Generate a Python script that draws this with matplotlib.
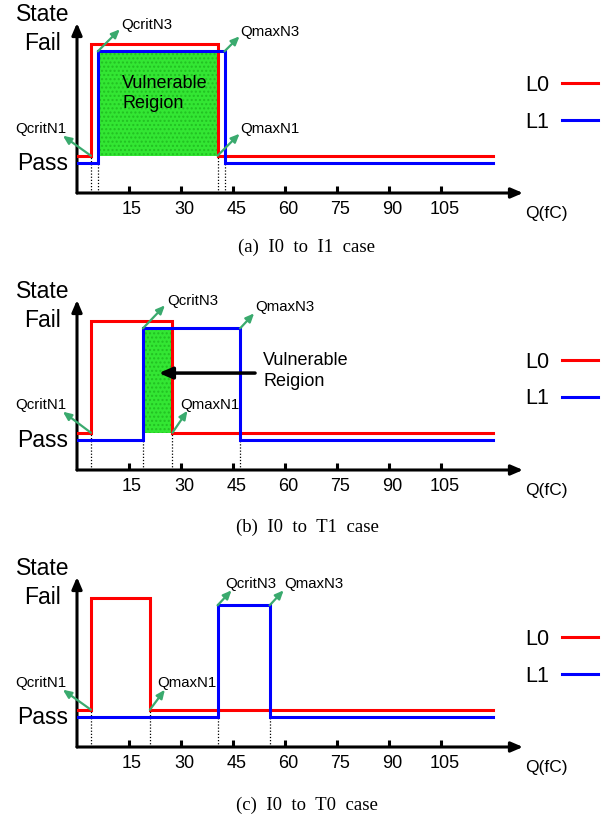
import matplotlib
matplotlib.use("Agg")
import matplotlib.pyplot as plt
from matplotlib.transforms import ScaledTranslation

# ---------------- data ----------------
captions = ["(a)  I0  to  I1  case", "(b)  I0  to  T1  case", "(c)  I0  to  T0  case"]
l0_rise = [4, 4, 4]            # QcritN1 (fC)
l0_fall = [40.5, 27.5, 21]     # QmaxN1 (fC)
l1_rise = [6, 19, 40.5]        # QcritN3 (fC)
l1_fall = [42.5, 47, 55.5]     # QmaxN3 (fC)
vulnerable = [True, True, False]
q_end = 120
pass_l0, fail_l0 = 1.0, 4.0
pass_l1, fail_l1 = 0.8, 3.8
xticks = [15, 30, 45, 60, 75, 90, 105]
series_names = ["L0", "L1"]

# ---------------- style ----------------
RED = "#ff0000"
BLUE = "#0000ff"
GREEN_FILL = "#33e633"
ARROW_GREEN = "#3aaa6e"
SANS = ["Liberation Sans", "DejaVu Sans"]
SERIF = ["Liberation Serif", "DejaVu Serif"]
plt.rcParams["font.family"] = SANS

W, H = 612, 818
fig = plt.figure(figsize=(W / 100, H / 100), dpi=100)

axis_bottoms = [193, 470, 747]   # pixel row of x-axis
caption_y = [247, 527, 805]
AX_LEFT, AX_W, AX_H = 77, 446, 170
XMAX, YMAX = 128.5, 4.56

# annotation offsets (pixels): (arrow dx, dy, text dx, dy, ha)
ann_offsets = [
    {"QcritN1": (-28, 20, -25, 27, "right"), "QcritN3": (22, 22, 23, 26, "left"),
     "QmaxN3": (15, 15, 16, 19, "left"), "QmaxN1": (22, 22, 23, 27, "left")},
    {"QcritN1": (-28, 21, -25, 28, "right"), "QcritN3": (22, 23, 24, 27, "left"),
     "QmaxN3": (14, 15, 15, 21, "left"), "QmaxN1": (15, 22, 8, 28, "left")},
    {"QcritN1": (-28, 20, -25, 27, "right"), "QcritN3": (14, 15, 8, 21, "left"),
     "QmaxN3": (14, 15, 15, 21, "left"), "QmaxN1": (15, 20, 7, 27, "left")},
]

for i in range(3):
    yb = axis_bottoms[i]
    ax = fig.add_axes([AX_LEFT / W, 1 - yb / H, AX_W / W, AX_H / H])
    ax.set_xlim(0, XMAX)
    ax.set_ylim(0, YMAX)
    for s in ax.spines.values():
        s.set_visible(False)

    # axes arrows
    ax.annotate("", xy=(XMAX, 0), xytext=(0, 0),
                arrowprops=dict(arrowstyle="-|>,head_length=0.7,head_width=0.3",
                                color="k", lw=2.2, shrinkA=0, shrinkB=0),
                annotation_clip=False)
    ax.annotate("", xy=(0, YMAX), xytext=(0, 0),
                arrowprops=dict(arrowstyle="-|>,head_length=0.7,head_width=0.3",
                                color="k", lw=2.2, shrinkA=0, shrinkB=0),
                annotation_clip=False)

    ax.set_xticks(xticks)
    ax.set_xticklabels([str(t) for t in xticks])
    ax.tick_params(axis="x", direction="in", length=5, width=2.2, pad=6,
                   labelsize=13, color="k")
    off = ScaledTranslation(3 / 100, 0, fig.dpi_scale_trans)
    for lab in ax.get_xticklabels():
        lab.set_transform(lab.get_transform() + off)
    ax.set_yticks([])

    # step curves
    r0, f0, r1, f1 = l0_rise[i], l0_fall[i], l1_rise[i], l1_fall[i]
    if vulnerable[i]:
        ax.fill_between([r1, f0], pass_l0, fail_l1, color=GREEN_FILL,
                        hatch="....", edgecolor="#22c022", linewidth=0, zorder=1)
    ax.plot([0, r0, r0, f0, f0, q_end],
            [pass_l0, pass_l0, fail_l0, fail_l0, pass_l0, pass_l0],
            color=RED, lw=2.2, zorder=3, label=series_names[0],
            solid_joinstyle="miter")
    ax.plot([0, r1, r1, f1, f1, q_end],
            [pass_l1, pass_l1, fail_l1, fail_l1, pass_l1, pass_l1],
            color=BLUE, lw=2.2, zorder=4, label=series_names[1],
            solid_joinstyle="miter")

    # dotted drop lines
    for x, y in [(r0, pass_l0), (f0, pass_l0), (r1, pass_l1), (f1, pass_l1)]:
        ax.plot([x, x], [0, y], color="k", lw=0.9, ls=(0, (1, 1.5)), zorder=2)

    # annotations
    corners = {"QcritN1": (r0, pass_l0), "QmaxN1": (f0, pass_l0),
               "QcritN3": (r1, fail_l1), "QmaxN3": (f1, fail_l1)}
    for name, (cx, cy) in corners.items():
        adx, ady, tdx, tdy, ha = ann_offsets[i][name]
        ax.annotate("", xy=(cx, cy), xytext=(adx, ady), textcoords="offset pixels",
                    arrowprops=dict(arrowstyle="<|-,head_length=0.5,head_width=0.22",
                                    color=ARROW_GREEN, lw=1.6, shrinkA=0, shrinkB=0),
                    annotation_clip=False, zorder=6)
        ax.annotate(name, xy=(cx, cy), xytext=(tdx, tdy), textcoords="offset pixels",
                    ha=ha, va="center", fontsize=10.8, annotation_clip=False, zorder=6)

    # vulnerable region text
    if i == 0:
        ax.text(13, 2.67, "Vulnerable\nReigion", fontsize=13, ha="left",
                va="center", linespacing=1.3, zorder=7)
    elif i == 1:
        ax.annotate("", xy=(23.6, 2.6), xytext=(51.3, 2.6),
                    arrowprops=dict(arrowstyle="-|>,head_length=0.8,head_width=0.35",
                                    color="k", lw=2.5, shrinkA=0, shrinkB=0), zorder=7)
        ax.text(53.6, 2.65, "Vulnerable\nReigion", fontsize=13, ha="left",
                va="center", linespacing=1.3, zorder=7)

    # axis labels
    ax.text(-10, 4.8, "State", fontsize=16.5, ha="center", va="center")
    ax.text(-10, fail_l0, "Fail", fontsize=16.5, ha="center", va="center")
    ax.text(-10, pass_l1, "Pass", fontsize=16.5, ha="center", va="center")
    ax.text(129, -0.55, "Q(fC)", fontsize=12.5, ha="left", va="center")

    # legend
    ax.legend(loc="center left", bbox_to_anchor=(1.004, 0.525), frameon=False,
              markerfirst=False, fontsize=15.5, handlelength=1.7,
              handletextpad=0.6, labelspacing=0.72, borderpad=0, borderaxespad=0)

    fig.text(307 / W, 1 - caption_y[i] / H, captions[i], family=SERIF,
             fontsize=13.5, ha="center", va="center")

fig.savefig("out.png", dpi=100)
